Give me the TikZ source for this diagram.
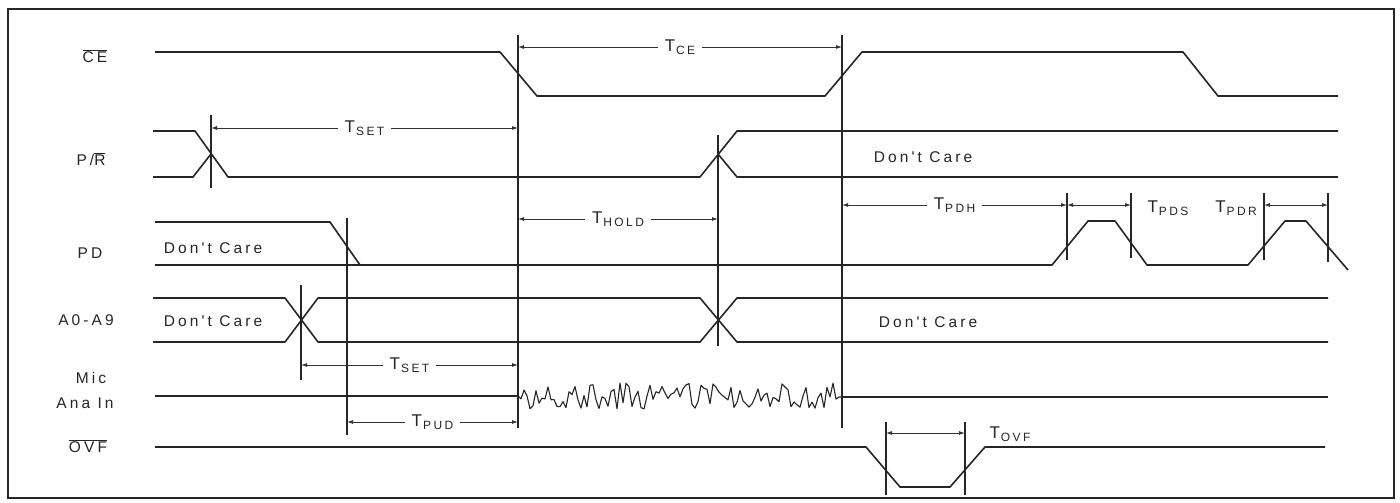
\documentclass[tikz,border=0pt]{standalone}
\usepackage{fontspec}
\setmainfont{Liberation Sans}
\newfontfamily\lblfont[LetterSpace=20]{Liberation Sans}
\usetikzlibrary{arrows.meta}
\newcommand\mytsub[1]{T\kern1pt\raisebox{-2.5pt}{\fontsize{12}{12}\selectfont #1}}
\begin{document}
\begin{tikzpicture}[x=1pt,y=-1pt,
  wave/.style={line width=1.6pt, draw=black!85, line join=round},
  marker/.style={line width=1.3pt, draw=black!85},
  dim/.style={line width=0.9pt, draw=black!80, {Latex[length=6pt,width=4pt]}-{Latex[length=6pt,width=4pt]}},
  sig/.style={font=\lblfont\fontsize{15.5}{17}\selectfont, inner sep=0pt, text=black!85},
  tl/.style={font=\lblfont\fontsize{17}{18}\selectfont, inner sep=0pt, text=black!85},
  gap/.style={tl, fill=white, inner xsep=7pt, inner ysep=2pt}]
\useasboundingbox (0,0) rectangle (1400,503);
\fill[white] (0,0) rectangle (1400,503);
% frame
\draw[line width=2pt, draw=black!85] (8,9) rectangle (1394,498);

% signal names
\node[sig] (nce)  at (95,56)  {$\overline{\mbox{CE}}$};
\node[sig] (npr)  at (91,159) {P/$\overline{\mbox{R}}$};
\node[sig] (npd)  at (90,253) {PD};
\node[sig] (na)   at (86,320) {A0-A9};
\node[sig] (nmic1) at (91,378) {Mic};
\node[sig] (nmic2) at (85,403) {Ana In};
\node[sig] (novf) at (88,446) {$\overline{\mbox{OVF}}$};

% CE
\draw[wave] (155,52) -- (500,52) -- (537,96) -- (825,96) -- (862,52) -- (1183,52) -- (1218,96) -- (1338,96);

% P/R
\draw[wave] (153,131) -- (195,131) -- (228,177) -- (700,177) -- (737,131) -- (1338,131);
\draw[wave] (153,177) -- (193,177) -- (211,154);
\draw[wave] (718,154) -- (737,177) -- (1338,177);
\node[sig] (dcpr) at (923,157) {Don't Care};

% PD
\draw[wave] (155,222) -- (330,222) -- (360,265);
\draw[wave] (155,265) -- (1052,265) -- (1088,221) -- (1115,221) -- (1147,265) -- (1248,265) -- (1285,221) -- (1306,221) -- (1348,270);
\node[sig] (dcpd) at (213,248) {Don't Care};

% A0-A9
\draw[wave] (153,298) -- (285,298) -- (318,342) -- (700,342) -- (737,298) -- (1328,298);
\draw[wave] (153,342) -- (285,342) -- (318,298) -- (700,298) -- (737,342) -- (1328,342);
\node[sig] (dca1) at (213,321) {Don't Care};
\node[sig] (dca2) at (928,322) {Don't Care};

% Mic Ana In
\draw[wave] (155,396) -- (518,396);
\pgfmathsetseed{7}
\draw[wave, line width=1.1pt] (518,396) \foreach \i in {1,...,107}{ -- ({518+3*\i},{396+13*rand}) } -- (842,397);
\draw[wave] (842,397) -- (1328,397);

% OVF
\draw[wave] (155,447) -- (866,447) -- (900,487) -- (950,487) -- (985,447) -- (1325,447);

% vertical markers
\draw[marker] (211,115) -- (211,188);
\draw[marker] (347,218) -- (347,435);
\draw[marker] (518,35) -- (518,428);
\draw[marker] (718,135) -- (718,346);
\draw[marker] (842,35) -- (842,428);
\draw[marker] (301,285) -- (301,380);
\draw[marker] (1067,193) -- (1067,260);
\draw[marker] (1131,193) -- (1131,258);
\draw[marker] (1264,193) -- (1264,260);
\draw[marker] (1328,193) -- (1328,262);
\draw[marker] (886,422) -- (886,495);
\draw[marker] (965,422) -- (965,495);

% timing dimensions
\coordinate (ceA) at (518,47);  \coordinate (ceB) at (842,47);
\draw[dim] (ceA) -- node[gap] (tce) {\mytsub{CE}} (ceB);
\coordinate (s1A) at (211,128); \coordinate (s1B) at (518,128);
\draw[dim] (s1A) -- node[gap] (tset1) {\mytsub{SET}} (s1B);
\coordinate (hA) at (518,219);  \coordinate (hB) at (718,219);
\draw[dim] (hA) -- node[gap] (thold) {\mytsub{HOLD}} (hB);
\coordinate (pdhA) at (842,205); \coordinate (pdhB) at (1067,205);
\draw[dim] (pdhA) -- node[gap] (tpdh) {\mytsub{PDH}} (pdhB);
\coordinate (pdsA) at (1067,205); \coordinate (pdsB) at (1131,205);
\draw[dim] (pdsA) -- (pdsB);
\node[tl] (tpds) at (1168,208) {\mytsub{PDS}};
\coordinate (pdrA) at (1264,205); \coordinate (pdrB) at (1328,205);
\draw[dim] (pdrA) -- (pdrB);
\node[tl] (tpdr) at (1236,208) {\mytsub{PDR}};
\coordinate (s2A) at (301,365); \coordinate (s2B) at (518,365);
\draw[dim] (s2A) -- node[gap] (tset2) {\mytsub{SET}} (s2B);
\coordinate (puA) at (347,422); \coordinate (puB) at (518,422);
\draw[dim] (puA) -- node[gap] (tpud) {\mytsub{PUD}} (puB);
\coordinate (ovA) at (886,433); \coordinate (ovB) at (965,433);
\draw[dim] (ovA) -- (ovB);
\node[tl] (tovf) at (1010,434) {\mytsub{OVF}};
\end{tikzpicture}
\end{document}
